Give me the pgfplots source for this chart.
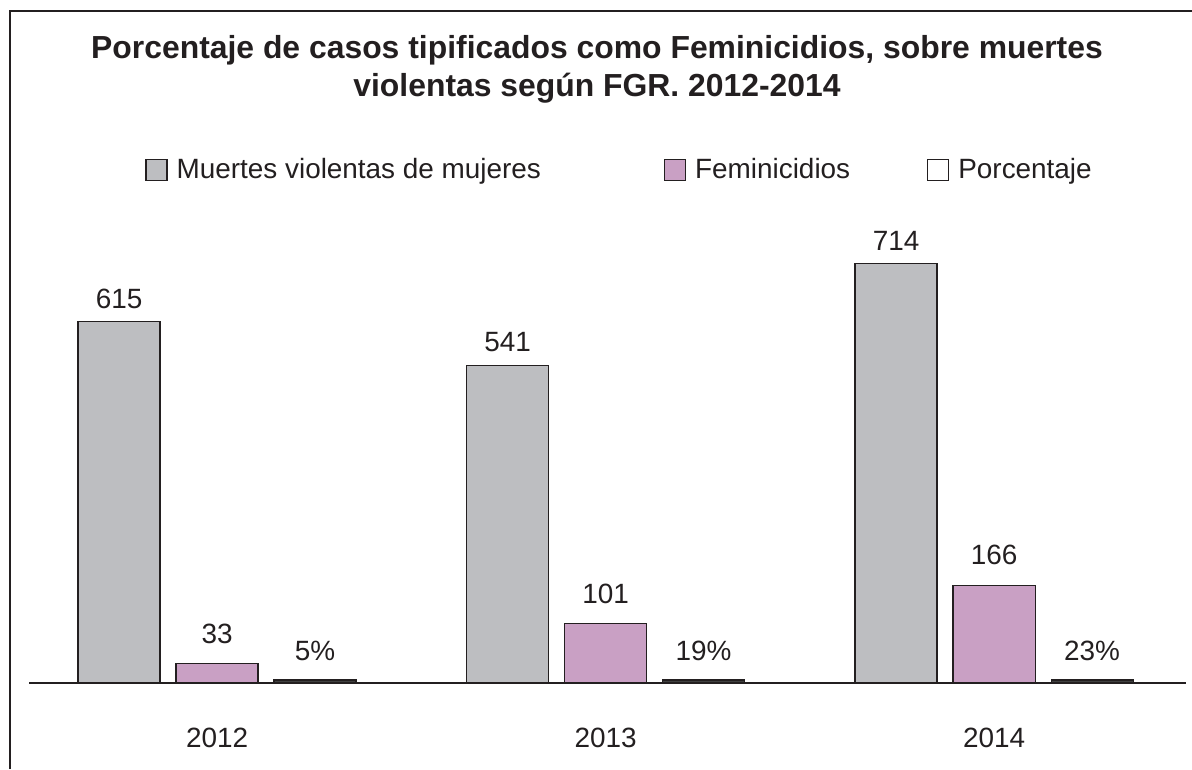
\documentclass[border=0pt]{standalone}
\usepackage{fontspec}
\setmainfont{Liberation Sans}
\usepackage{pgfplots}
\pgfplotsset{compat=1.18}
\definecolor{grisbar}{RGB}{189,190,193}
\definecolor{rosa}{RGB}{201,160,196}
\definecolor{borde}{RGB}{35,31,32}

\begin{document}
\begin{tikzpicture}[x=1bp,y=1bp]
\path[use as bounding box] (-14.5,-43) rectangle (581.5,341.5);
\draw[borde, line width=1bp] (-9.5,-43) -- (-9.5,336) -- (581.5,336);
\begin{axis}[
    at={(0,0)}, anchor=south west,
    scale only axis, width=578.5bp, height=235bp,
    xmin=-0.484, xmax=2.494, ymin=0, ymax=800,
    axis x line=bottom, axis y line=none,
    x axis line style={-, line width=0.75bp, draw=borde},
    xtick={0,1,2}, xticklabels={2012,2013,2014},
    major tick length=0, ytick=\empty,
    xticklabel style={font=\fontsize{14}{16}\selectfont, text=borde, anchor=center, yshift=-27.5bp},
    ybar=8bp, bar width=41bp,
    clip=false,
    point meta=explicit symbolic,
    nodes near coords,
    every node near coord/.append style={font=\fontsize{14}{16}\selectfont, text=borde},
    legend columns=3,
    legend style={at={(axis description cs:0.1003,1.0915)}, anchor=west, draw=none,
        inner sep=0pt, font=\fontsize{14}{16}\selectfont, text=borde,
        /tikz/every odd column/.append style={column sep=2.5bp},
        /tikz/every even column/.append style={column sep=36.5bp}},
    legend cell align=left,
]
\addplot[fill=grisbar, draw=borde, line width=0.6bp,
    every node near coord/.append style={yshift=3bp},
    legend image code/.code={\draw[fill=grisbar, draw=borde, line width=0.6bp] (0bp,-5.25bp) rectangle (10.5bp,5.25bp);}]
    coordinates {(0,615)[615] (1,541)[541] (2,714)[714]};
\addplot[fill=rosa, draw=borde, line width=0.6bp,
    every node near coord/.append style={yshift=6.5bp},
    legend image code/.code={\draw[fill=rosa, draw=borde, line width=0.6bp] (0bp,-5.25bp) rectangle (10.5bp,5.25bp);}]
    coordinates {(0,33)[33] (1,101)[101] (2,166)[166]};
\addplot[fill=black!75, draw=borde, line width=0.6bp,
    every node near coord/.append style={yshift=6bp},
    legend image code/.code={\draw[fill=white, draw=borde, line width=0.6bp] (0bp,-5.25bp) rectangle (10.5bp,5.25bp);}]
    coordinates {(0,5)[5\%] (1,5)[19\%] (2,5)[23\%]};
\legend{Muertes violentas de mujeres\rule{23bp}{0pt}, Feminicidios, Porcentaje}
\end{axis}
\node[font=\fontsize{16}{19}\selectfont\bfseries, text=borde, align=center] at (284,307)
    {Porcentaje de casos tipificados como Feminicidios, sobre muertes\\violentas según FGR. 2012-2014};
\end{tikzpicture}
\end{document}
